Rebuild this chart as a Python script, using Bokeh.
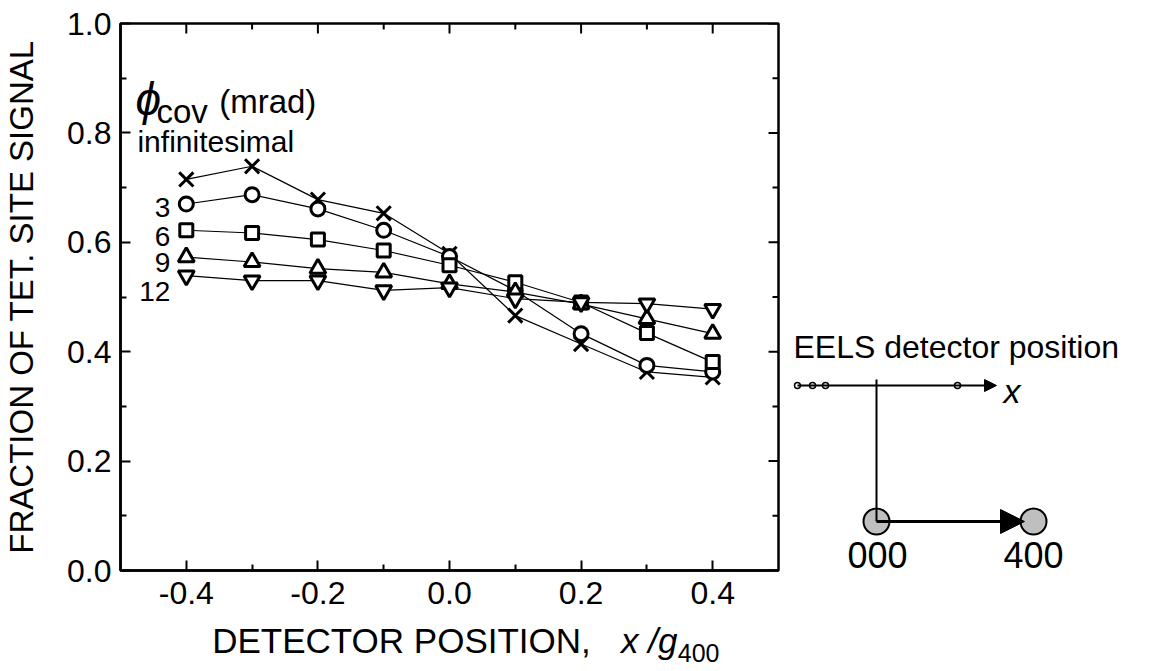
import numpy as np
from bokeh.plotting import figure
from bokeh.models import Range1d, FixedTicker, Label, Arrow, NormalHead
from bokeh.layouts import row, column
from bokeh.embed import file_html
from bokeh.resources import INLINE
from bokeh.core.properties import value

# ---------------- data ----------------
positions = [-0.4, -0.3, -0.2, -0.1, 0.0, 0.1, 0.2, 0.3, 0.4]
frac_inf = [0.715, 0.739, 0.678, 0.653, 0.579, 0.466, 0.414, 0.363, 0.353]
frac_3 = [0.670, 0.687, 0.661, 0.622, 0.574, 0.512, 0.433, 0.375, 0.363]
frac_6 = [0.622, 0.617, 0.605, 0.585, 0.558, 0.527, 0.490, 0.434, 0.381]
frac_9 = [0.573, 0.564, 0.552, 0.545, 0.524, 0.509, 0.487, 0.460, 0.433]
frac_12 = [0.539, 0.530, 0.530, 0.512, 0.517, 0.497, 0.490, 0.488, 0.478]
series_names = ["infinitesimal", "3", "6", "9", "12"]
series_markers = ["x", "circle", "square", "triangle", "inverted_triangle"]

x_ticks = [-0.4, -0.2, 0.0, 0.2, 0.4]
x_tick_labels = ["-0.4", "-0.2", "0.0", "0.2", "0.4"]
x_minor = [-0.3, -0.1, 0.1, 0.3]
y_ticks = [0.0, 0.2, 0.4, 0.6, 0.8, 1.0]
y_tick_labels = ["0.0", "0.2", "0.4", "0.6", "0.8", "1.0"]
y_minor = [0.1, 0.3, 0.5, 0.7, 0.9]

FONT = "Liberation Sans"

# ---------------- geometry (page pixels) ----------------
W_LEFT, H_TOP = 788, 620
FR_L, FR_R, FR_T, FR_B = 118, 778, 23, 570
FR_W, FR_H = FR_R - FR_L, FR_B - FR_T


def mid(baseline, size):
    """vertical middle of the em box for a given alphabetic baseline"""
    return baseline - 0.346 * size


# ---------------- main plot ----------------
p = figure(width=W_LEFT, height=H_TOP, x_range=Range1d(-0.5, 0.5), y_range=Range1d(0, 1),
           output_backend="svg", toolbar_location=None,
           min_border_left=FR_L, min_border_right=W_LEFT - FR_R,
           min_border_top=FR_T, min_border_bottom=H_TOP - FR_B)
p.grid.visible = False
p.outline_line_color = "black"
p.outline_line_width = 2.5
p.background_fill_color = "white"
p.border_fill_color = "white"


def style_axis(ax, ticks, minor, labels, standoff):
    ax.ticker = FixedTicker(ticks=ticks, minor_ticks=minor)
    ax.axis_line_width = 2.5
    ax.axis_line_color = "black"
    ax.major_tick_in = 10
    ax.major_tick_out = 0
    ax.minor_tick_in = 6
    ax.minor_tick_out = 0
    ax.major_tick_line_width = 2
    ax.minor_tick_line_width = 2
    ax.major_tick_line_color = "black"
    ax.minor_tick_line_color = "black"
    ax.major_label_overrides = {t: l for t, l in zip(ticks, labels)}
    ax.major_label_text_font = FONT
    ax.major_label_text_font_size = "32px"
    ax.major_label_text_color = "black"
    ax.major_label_standoff = standoff


style_axis(p.xaxis[0], x_ticks, x_minor, x_tick_labels, 11)
style_axis(p.yaxis[0], y_ticks, y_minor, y_tick_labels, 9)
p.yaxis[0].axis_label = "FRACTION OF TET. SITE SIGNAL"
p.yaxis[0].axis_label_text_font = FONT
p.yaxis[0].axis_label_text_font_size = "33px"
p.yaxis[0].axis_label_text_font_style = "normal"
p.yaxis[0].axis_label_text_color = "black"
p.yaxis[0].axis_label_standoff = 24

# mirrored inward ticks on the top and right frame edges
tx = 10.0 / FR_W   # 10 px in x data units
ty = 10.0 / FR_H   # 10 px in y data units
p.segment(x0=x_ticks, y0=[1.0] * len(x_ticks), x1=x_ticks, y1=[1.0 - ty] * len(x_ticks),
          line_color="black", line_width=2)
p.segment(x0=x_minor, y0=[1.0] * len(x_minor), x1=x_minor, y1=[1.0 - 0.6 * ty] * len(x_minor),
          line_color="black", line_width=2)
p.segment(x0=[0.5] * len(y_ticks), y0=y_ticks, x1=[0.5 - tx] * len(y_ticks), y1=y_ticks,
          line_color="black", line_width=2)
p.segment(x0=[0.5] * len(y_minor), y0=y_minor, x1=[0.5 - 0.6 * tx] * len(y_minor), y1=y_minor,
          line_color="black", line_width=2)

all_series = [frac_inf, frac_3, frac_6, frac_9, frac_12]
for s in all_series:
    p.line(positions, s, line_color="black", line_width=1.2)
marker_sizes = {"x": 20, "circle": 14, "square": 13, "triangle": 16, "inverted_triangle": 16}
for s, m in zip(all_series, series_markers):
    p.scatter(positions, s, marker=m, size=marker_sizes[m], line_color="black", line_width=3,
              fill_color="white")


# page px -> data helpers for in-frame legend text
def dx(px):
    return -0.5 + (px - FR_L) / FR_W


def dy(py):
    return (FR_B - py) / FR_H


def lab(px, py, text, size, align="left", style="normal"):
    p.add_layout(Label(x=dx(px), y=dy(py), text=text, text_font=FONT, text_font_size=f"{size}px",
                       text_align=align, text_baseline="middle", text_font_style=style,
                       text_color="black"))


lab(133, mid(114, 46), "\u03d5", 46, style="italic")
lab(154, mid(122, 33), "cov", 33)
lab(217, mid(112, 33), "(mrad)", 33)
lab(135, mid(151, 30), series_names[0], 30)
for name, yc in zip(series_names[1:], [207, 236, 262, 291]):
    lab(168, yc, name, 28, align="right")

# ---------------- x-axis title strip (frame aligned with main plot) ----------------
p3 = figure(width=W_LEFT, height=671 - H_TOP, x_range=Range1d(FR_L, FR_R), y_range=Range1d(671, H_TOP),
            output_backend="svg", toolbar_location=None,
            min_border_left=FR_L, min_border_right=W_LEFT - FR_R, min_border_top=0, min_border_bottom=0,
            x_axis_type=None, y_axis_type=None)
p3.grid.visible = False
p3.outline_line_color = None
p3.text(x=[210], y=[mid(652, 35)], text=["DETECTOR POSITION,"], text_font=value(FONT),
        text_font_size="35px", text_baseline="middle", text_color="black")
p3.text(x=[620], y=[mid(652, 35)], text=["x /g"], text_font=value(FONT), text_font_style="italic",
        text_font_size="35px", text_baseline="middle", text_color="black")
p3.text(x=[677], y=[mid(661, 25)], text=["400"], text_font=value(FONT),
        text_font_size="25px", text_baseline="middle", text_color="black")

# ---------------- schematic of detector position ----------------
p2 = figure(width=1159 - W_LEFT, height=671, x_range=Range1d(W_LEFT, 1159), y_range=Range1d(671, 0),
            output_backend="svg", toolbar_location=None, min_border=0,
            x_axis_type=None, y_axis_type=None)
p2.grid.visible = False
p2.outline_line_color = None

p2.text(x=[793], y=[mid(358, 32)], text=["EELS detector position"], text_font=value(FONT),
        text_font_size="32px", text_baseline="middle", text_color="black")
p2.text(x=[1003], y=[mid(402, 34)], text=["x"], text_font=value(FONT), text_font_style="italic",
        text_font_size="34px", text_baseline="middle", text_color="black")
p2.text(x=[877, 1033], y=[mid(567, 36), mid(567, 36)], text=["000", "400"], text_font=value(FONT),
        text_font_size="36px", text_align="center", text_baseline="middle", text_color="black")

p2.add_layout(Arrow(end=NormalHead(size=12, fill_color="black", line_color="black"),
                    x_start=797, y_start=385, x_end=996, y_end=385,
                    line_width=2, line_color="black"))
p2.scatter([797, 812, 825, 957], [385, 385, 385, 385], marker="circle", size=6,
           fill_color="white", line_color="black", line_width=1.5)
p2.scatter([876, 1033], [521, 521], marker="circle", size=26,
           fill_color="#bfbfbf", line_color="black", line_width=2)
p2.segment(x0=[876], y0=[379], x1=[876], y1=[521], line_color="black", line_width=2)
p2.add_layout(Arrow(end=NormalHead(size=24, fill_color="black", line_color="black"),
                    x_start=876, y_start=521, x_end=1024, y_end=521,
                    line_width=3, line_color="black"))

layout = row(column(p, p3), p2)
open("out.html", "w").write(file_html(layout, INLINE))
